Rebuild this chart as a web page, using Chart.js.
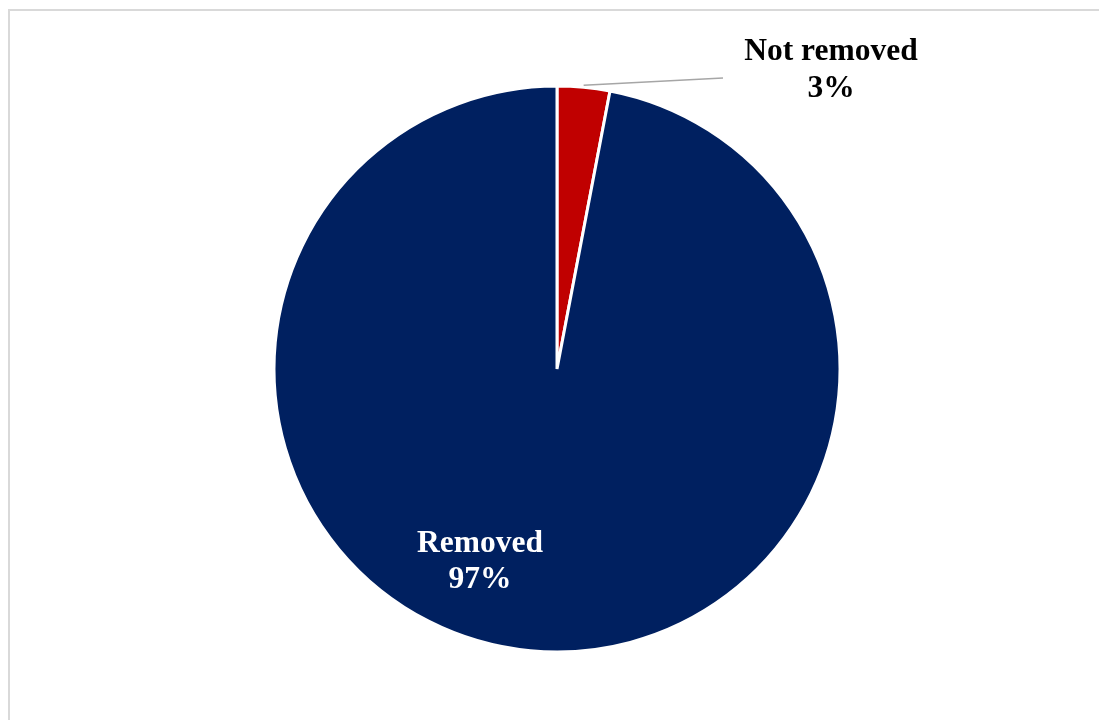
<!DOCTYPE html>
<html lang="en">
<head>
    <meta charset="UTF-8">
    <title>Removed vs Not removed</title>
    <script src="https://cdn.jsdelivr.net/npm/chart.js"></script>
    <style>
        html, body {
            margin: 0;
            padding: 0;
            background: #ffffff;
        }
        .wrap {
            position: relative;
            width: 1099px;
            height: 720px;
            overflow: hidden;
        }
        /* light frame, only top and left edges show */
        .frame {
            position: absolute;
            left: 8px;
            top: 9px;
            width: 1200px;
            height: 800px;
            border-top: 2px solid #d9d9d9;
            border-left: 2px solid #d9d9d9;
        }
        canvas {
            position: absolute;
            left: 0;
            top: 0;
        }
    </style>
</head>
<body>
    <div class="wrap">
        <div class="frame"></div>
        <canvas id="pie" width="1099" height="720"></canvas>
    </div>

    <script>
        // Slice data
        const categories = ['Not removed', 'Removed'];
        const shares = [3, 97];

        const sliceColors = ['#C00000', '#002060'];
        const labelFont = 'bold 31.5px "Liberation Serif", "Times New Roman", serif';

        // Draws the two data labels (one with a leader line) from the arc geometry
        const sliceLabels = {
            id: 'sliceLabels',
            afterDatasetsDraw(chart) {
                const ctx = chart.ctx;
                const arcs = chart.getDatasetMeta(0).data;
                ctx.save();
                ctx.font = labelFont;
                ctx.textAlign = 'center';
                ctx.textBaseline = 'alphabetic';

                // Not removed: outside, with leader line from the arc edge
                const a0 = arcs[0];
                const mid0 = (a0.startAngle + a0.endAngle) / 2;
                const r0 = a0.outerRadius;
                const sx = a0.x + Math.cos(mid0) * r0;
                const sy = a0.y + Math.sin(mid0) * r0 - 2;
                const ex = a0.x + 166;
                const ey = a0.y - 291;
                ctx.strokeStyle = '#a6a6a6';
                ctx.lineWidth = 1.5;
                ctx.beginPath();
                ctx.moveTo(sx, sy);
                ctx.lineTo(ex, ey);
                ctx.stroke();
                ctx.fillStyle = '#000000';
                const tx0 = a0.x + 274;
                ctx.fillText(categories[0], tx0, a0.y - 309);
                ctx.fillText(shares[0] + '%', tx0, a0.y - 272);

                // Removed: inside the slice, white text
                const a1 = arcs[1];
                const tx1 = a1.x - 77;
                const ty1 = a1.y + 183;
                ctx.fillStyle = '#ffffff';
                ctx.fillText(categories[1], tx1, ty1);
                ctx.fillText(shares[1] + '%', tx1, ty1 + 36);
                ctx.restore();
            }
        };

        const ctx = document.getElementById('pie').getContext('2d');
        const chart = new Chart(ctx, {
            type: 'pie',
            data: {
                labels: categories,
                datasets: [{
                    data: shares,
                    backgroundColor: sliceColors,
                    borderColor: '#ffffff',
                    borderWidth: 3
                }]
            },
            options: {
                responsive: false,
                animation: false,
                radius: 283,
                layout: {
                    padding: { left: 15, right: 0, top: 18, bottom: 0 }
                },
                plugins: {
                    legend: { display: false },
                    tooltip: { enabled: false }
                }
            },
            plugins: [sliceLabels]
        });
    </script>
</body>
</html>
